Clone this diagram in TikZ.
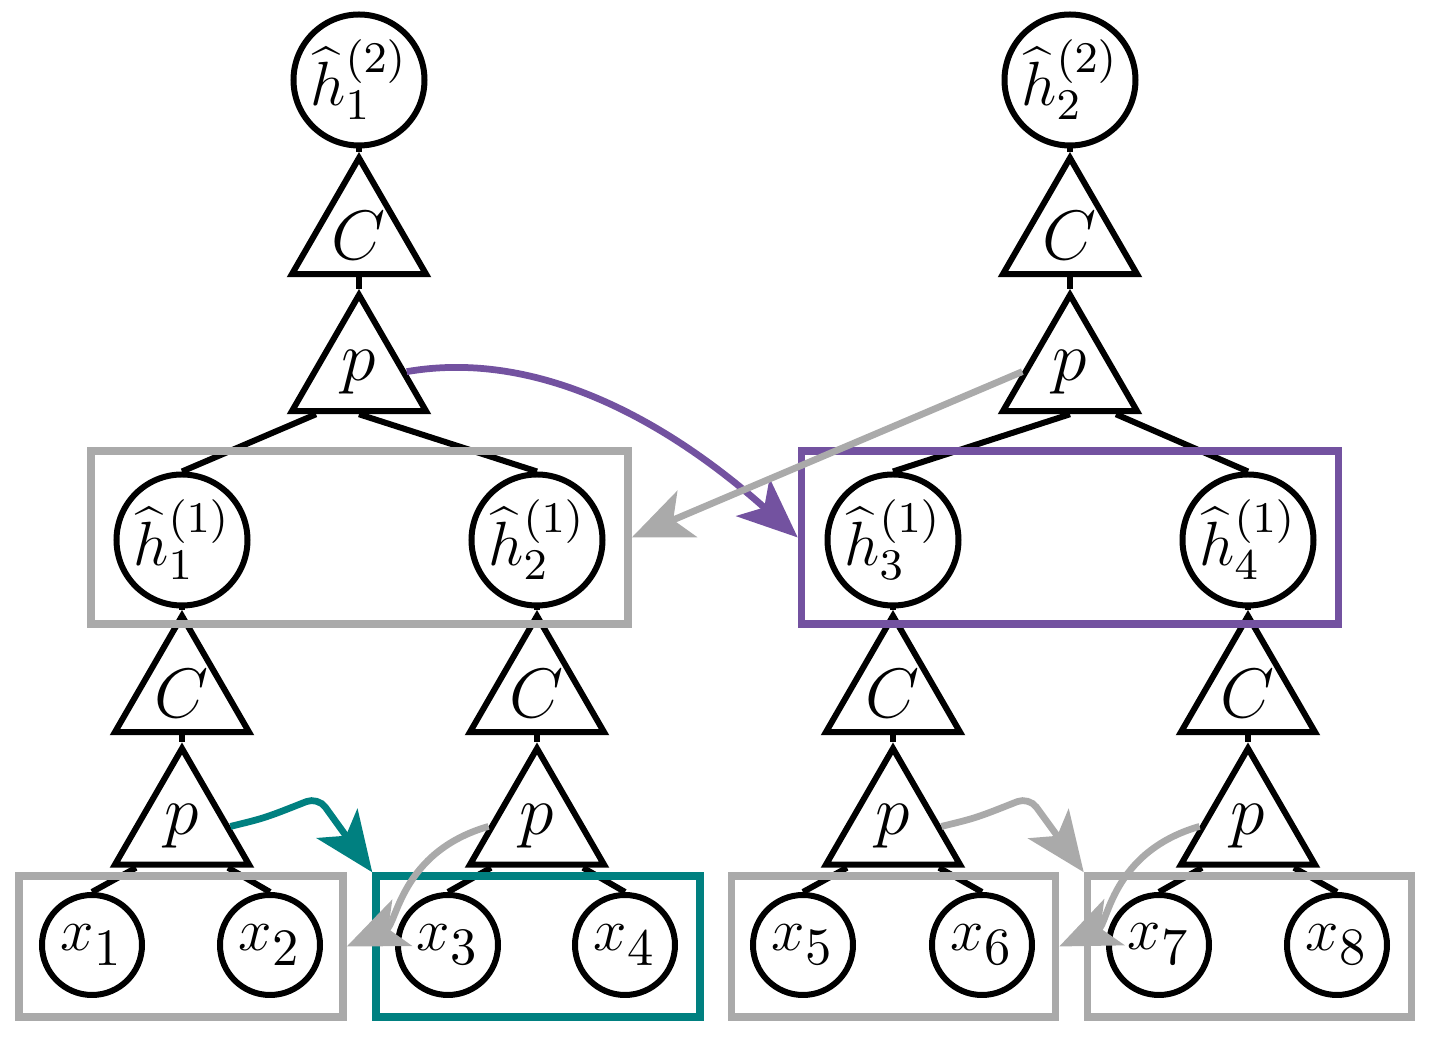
\RequirePackage{fix-cm}
\documentclass[tikz,border=0pt]{standalone}
\usetikzlibrary{shapes.geometric,arrows.meta,calc}
\definecolor{boxgray}{RGB}{170,170,170}
\definecolor{myteal}{RGB}{0,128,128}
\definecolor{mypurple}{RGB}{115,82,160}
\begin{document}
\begin{tikzpicture}[x=0.2pt,y=-0.2pt,line width=1.2pt,
  hnode/.style={circle,draw,minimum size=26.2pt,inner sep=0pt,font=\fontsize{12.5}{14}\selectfont},
  leaf/.style={circle,draw,minimum size=20pt,inner sep=0pt,font=\fontsize{12}{14}\selectfont},
  tri/.style={regular polygon,regular polygon sides=3,draw,minimum size=31pt,inner sep=0pt,font=\fontsize{14}{16}\selectfont},
  grpbox/.style={rectangle,draw=boxgray,line width=1.5pt,inner sep=0pt},
  lbox/.style={minimum width=64.8pt,minimum height=28.2pt},
  hbox/.style={minimum width=107.4pt,minimum height=34.6pt},
  arr/.style={line width=1.35pt,-{Stealth[length=12pt,width=10pt,inset=3pt]}}]
\useasboundingbox (0,0) rectangle (1430,1037);
\newcommand{\xs}[1]{$x_{\hbox{\fontsize{10.5}{12}\selectfont #1}}$}
% top level
\node[hnode] (H21) at (359,80) {$\widehat{h}^{(2)}_1$};
\node[tri] (C2a) at (359,235.5) {$C$};
\node[tri] (P2a) at (359,372.5) {$p$};
\node[hnode] (H22) at (1070,80) {$\widehat{h}^{(2)}_2$};
\node[tri] (C2b) at (1070,235.5) {$C$};
\node[tri] (P2b) at (1070,372.5) {$p$};
% level one
\node[hnode] (H11) at (182,540) {$\widehat{h}^{(1)}_1$};
\node[hnode] (H12) at (537,540) {$\widehat{h}^{(1)}_2$};
\node[hnode] (H13) at (893,540) {$\widehat{h}^{(1)}_3$};
\node[hnode] (H14) at (1248,540) {$\widehat{h}^{(1)}_4$};
\foreach \n/\xx in {a/182,b/537,c/893,d/1248}{
  \node[tri] (C\n) at (\xx,693.5) {$C$};
  \node[tri] (P\n) at (\xx,826) {$p$};
}
% leaves
\node[leaf] (X1) at (92,945) {\xs{1}};
\node[leaf] (X2) at (270,945) {\xs{2}};
\node[leaf] (X3) at (448,945) {\xs{3}};
\node[leaf] (X4) at (625,945) {\xs{4}};
\node[leaf] (X5) at (803,945) {\xs{5}};
\node[leaf] (X6) at (982,945) {\xs{6}};
\node[leaf] (X7) at (1159,945) {\xs{7}};
\node[leaf] (X8) at (1337,945) {\xs{8}};
% edges
\draw (H21.south) -- (C2a.corner 1);
\draw (C2a.side 2) -- (P2a.corner 1);
\draw (H22.south) -- (C2b.corner 1);
\draw (C2b.side 2) -- (P2b.corner 1);
\draw ($(P2a.side 2)+(-43,0)$) -- (H11.north);
\draw (P2a.side 2) -- (H12.north);
\draw (P2b.side 2) -- (H13.north);
\draw ($(P2b.side 2)+(46,0)$) -- (H14.north);
\draw (H11.south) -- (Ca.corner 1);
\draw (H12.south) -- (Cb.corner 1);
\draw (H13.south) -- (Cc.corner 1);
\draw (H14.south) -- (Cd.corner 1);
\foreach \n/\l/\r in {a/X1/X2,b/X3/X4,c/X5/X6,d/X7/X8}{
  \draw (C\n.side 2) -- (P\n.corner 1);
  \draw ($(P\n.side 2)+(-46,0)$) -- (\l.north);
  \draw ($(P\n.side 2)+(46,0)$) -- (\r.north);
}
% boxes
\node[grpbox,hbox] (BH12) at (359.5,537.5) {};
\node[grpbox,hbox,draw=mypurple] (BH34) at (1070,537.5) {};
\node[grpbox,lbox] (B12) at (181,946.5) {};
\node[grpbox,lbox,draw=myteal] (B34) at (538,946.5) {};
\node[grpbox,lbox] (B56) at (893.5,946.5) {};
\node[grpbox,lbox] (B78) at (1249.5,946.5) {};
% arrows
\coordinate (sPu) at ($(P2a.corner 1)!0.66!(P2a.corner 3)$);
\coordinate (sG1) at ($(P2b.corner 1)!0.66!(P2b.corner 2)$);
\coordinate (sTe) at ($(Pa.corner 1)!0.67!(Pa.corner 3)$);
\coordinate (sG2) at ($(Pb.corner 1)!0.67!(Pb.corner 2)$);
\coordinate (sG3) at ($(Pc.corner 1)!0.67!(Pc.corner 3)$);
\coordinate (sG4) at ($(Pd.corner 1)!0.67!(Pd.corner 2)$);
\draw[arr,mypurple] (sPu) .. controls (560,345) and (700,450) .. (BH34.west);
\draw[arr,myteal,rounded corners=2.5pt] (sTe) .. controls (265,818) .. (318,797) -- (B34.north west);
\draw[arr,boxgray,rounded corners=2.5pt] (sG3) .. controls (976,818) .. (1029,797) -- (B78.north west);
\draw[arr,boxgray] (sG1) -- (BH12.east);
\draw[arr,boxgray] (sG2) .. controls (400,852) and (397,925) .. (B12.east);
\draw[arr,boxgray] (sG4) .. controls (1111,852) and (1108,925) .. (B56.east);
\end{tikzpicture}
\end{document}
